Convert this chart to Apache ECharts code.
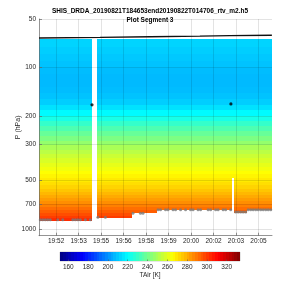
<!DOCTYPE html>
<html><head><meta charset="utf-8">
<script src="https://cdn.jsdelivr.net/npm/echarts@6/dist/echarts.min.js"></script>
<style>html,body{margin:0;padding:0;background:#fff}#c{width:300px;height:300px}</style>
</head><body><div id="c"></div>
<script>
// ---------------- data ----------------
const titleLines = ['SHIS_DRDA_20190821T184653end20190822T014706_rtv_m2.h5', 'Plot Segment 3'];
const yTickValues = [50, 100, 200, 300, 500, 700, 1000];
const xTickTimes = ['19:52:30','19:53:54','19:55:18','19:56:42','19:58:06','19:59:30','20:00:54','20:02:18','20:03:42','20:05:06'];
const xTickLabels = ['19:52','19:53','19:55','19:56','19:58','19:59','20:00','20:02','20:03','20:05'];
const cbTicks = [160, 180, 200, 220, 240, 260, 280, 300, 320];
const cbRange = [151.6, 333.4];
// retrieval pressure levels (hPa, layer edges) and layer temperatures (K)
const levels = [66.44,74.13,82.18,90.91,100.2,110.2,120.7,131.9,143.8,156.4,169.8,183.8,198.6,214.2,230.5,247.6,265.4,284.0,303.4,323.4,344.2,365.6,387.8,410.7,434.2,458.5,483.5,509.1,535.2,562.0,589.3,617.1,645.5,674.3,703.6,733.4,763.6,794.2,825.1,856.4,888.2];
const layerTemp = [212,211,210,209,208,207.5,207.5,208,209,211,214.5,219,224,229,233.5,238,242,246,250,253,256,258.5,261,263,265,267,269,271,273,275.5,278,280.5,283,285.5,288,291,294,297,300,303];
// columns (time steps)
const colStart = '19:51:26';
const colStepSec = 9.36;
const colBottom = [
 888.2,888.2,888.2,888.2,888.2,888.2,888.2,888.2,888.2,888.2,888.2,888.2,888.2,888.2,888.2,888.2,888.2,888.2,888.2,888.2,888.2,
 null,null,
 856.4,856.4,856.4,856.4,856.4,856.4,856.4,856.4,856.4,856.4,856.4,856.4,856.4,856.4,
 794.2,794.2,794.2,794.2,794.2,794.2,794.2,794.2,794.2,794.2,
 763.6,763.6,763.6,763.6,763.6,763.6,763.6,763.6,763.6,763.6,763.6,763.6,763.6,763.6,763.6,
 763.6,763.6,763.6,763.6,763.6,763.6,763.6,763.6,763.6,763.6,763.6,763.6,763.6,763.6,763.6,
 483.5,
 794.2,794.2,794.2,794.2,794.2,
 763.6,763.6,763.6,763.6,763.6,763.6,763.6,763.6,763.6,763.6
];
// surface markers: column index and pressure
const markerCols = [0,1,2,3,4,7,9,13,14,15,16,18,20, 23,26, 37,40,41, 47,48,50,51,53,54,56,58,60,61,63,64,67,68,70,71,73,74,76, 78,79,80,81,82, 83,84,85,86,87,88,89,90,91,92];
const markerP =    [875,875,875,875,875,875,875,875,875,875,875,875,875, 845,845, 800,800,800, 760,760,760,760,760,760,760,760,760,760,760,760,760,760,760,760,760,760,760, 785,785,785,785,785, 760,760,760,760,760,760,760,760,760,760];
// flight level line
const flightTimes = ['19:51:26','19:55:14','19:58:21','20:01:27','20:03:19','20:05:56'];
const flightP = [65.6, 65.0, 64.4, 63.8, 63.4, 63.0];
// black dots
const dotTimes = ['19:54:44','20:03:23'];
const dotP = [170, 168];

// ---------------- build ----------------
function toMin(s){const a=s.split(':').map(Number);return a[0]*60+a[1]+(a[2]||0)/60;}
const t0 = toMin(colStart), dtm = colStepSec/60;
const xMin = t0, xMax = t0 + colBottom.length*dtm;
const cells = [];
colBottom.forEach((b,i)=>{
  if(b==null) return;
  for(let k=0;k<layerTemp.length && levels[k+1]<=b+0.01;k++){
    cells.push([t0+i*dtm, t0+(i+1)*dtm, levels[k], levels[k+1], layerTemp[k]]);
  }
});
const cbCells = [];
const nSteps = 64, stepW=(cbRange[1]-cbRange[0])/nSteps;
for(let j=0;j<nSteps;j++){const a=cbRange[0]+j*stepW;cbCells.push([a,a+stepW,0,1,a+stepW/2]);}
const markers = markerCols.map((c,i)=>[t0+(c+0.5)*dtm, markerP[i]]);
const flight = flightTimes.map((t,i)=>[toMin(t), flightP[i]]);
const dots = dotTimes.map((t,i)=>[toMin(t), dotP[i]]);
const xTicks = xTickTimes.map(toMin);

function rectItem(params, api){
  const a = api.coord([api.value(0), api.value(2)]);
  const b = api.coord([api.value(1), api.value(3)]);
  const x0=Math.round(a[0]), x1=Math.round(b[0]), y0=Math.round(Math.min(a[1],b[1])), y1=Math.round(Math.max(a[1],b[1]));
  return {type:'rect', shape:{x:x0,y:y0,width:x1-x0,height:y1-y0}, style:{fill:api.visual('color')}};
}
const font = 'Liberation Sans, Arial, sans-serif';
const tc = '#262626';
const chart = echarts.init(document.getElementById('c'), null, {renderer:'canvas'});
chart.setOption({
  animation:false,
  backgroundColor:'#fff',
  title:{text:titleLines.join('\n'), left:'center', top:1.5, textStyle:{fontSize:6.5, fontWeight:'bold', color:'#000', fontFamily:font, lineHeight:9}},
  grid:[
    {left:39, right:28, top:19, bottom:64.3, outerBoundsMode:'none', containLabel:false},
    {left:60, right:60, top:252, height:9, outerBoundsMode:'none', containLabel:false, show:true, borderColor:'#999', borderWidth:0.5, backgroundColor:'transparent'}
  ],
  visualMap:{type:'continuous', show:false, min:cbRange[0], max:cbRange[1], dimension:4, seriesIndex:[0,4],
    inRange:{color:['#000080','#0000ff','#0080ff','#00ffff','#80ff80','#ffff00','#ff8000','#ff0000','#800000']}},
  xAxis:[
    {type:'value', gridIndex:0, min:xMin, max:xMax, z:3,
     axisLine:{show:true, lineStyle:{color:'#666', width:0.7}},
     axisTick:{show:true, inside:true, length:3, customValues:xTicks, lineStyle:{color:'#666', width:0.7}},
     axisLabel:{customValues:xTicks, fontSize:6.5, color:tc, fontFamily:font, margin:2.5,
       formatter:(v)=>{let bi=0,bd=1e9;xTicks.forEach((t,i)=>{const d=Math.abs(t-v);if(d<bd){bd=d;bi=i;}});return xTickLabels[bi];}},
     splitLine:{show:true, lineStyle:{color:'rgba(0,0,0,0.11)', width:1}}},
    {type:'value', gridIndex:1, min:cbRange[0], max:cbRange[1], z:3,
     name:'TAir [K]', nameLocation:'middle', nameGap:11, nameMoveOverlap:false, nameTextStyle:{fontSize:6.5, color:tc, fontFamily:font},
     axisLine:{show:false},
     axisTick:{show:true, inside:true, length:1.5, customValues:cbTicks, lineStyle:{color:'#555', width:0.6}},
     axisLabel:{customValues:cbTicks, fontSize:6.5, color:tc, fontFamily:font, margin:3},
     splitLine:{show:false}}
  ],
  yAxis:[
    {type:'log', logBase:10, gridIndex:0, min:50, max:1100, inverse:true, z:3,
     name:'P (hPa)', nameLocation:'middle', nameGap:17, nameMoveOverlap:false, nameTextStyle:{fontSize:7, color:tc, fontFamily:font},
     axisLine:{show:true, lineStyle:{color:'#666', width:0.7}},
     axisTick:{show:true, inside:true, length:3, customValues:yTickValues, lineStyle:{color:'#666', width:0.7}},
     axisLabel:{customValues:yTickValues, fontSize:6.5, color:tc, fontFamily:font, margin:3, formatter:(v)=>String(Math.round(v))},
     minorTick:{show:false}, minorSplitLine:{show:false},
     splitLine:{show:true, lineStyle:{color:'rgba(0,0,0,0.11)', width:1}}},
    {type:'value', gridIndex:1, min:0, max:1, show:false}
  ],
  series:[
    {type:'custom', xAxisIndex:0, yAxisIndex:0, data:cells, renderItem:rectItem, encode:{x:[0,1], y:[2,3]}, z:1, silent:true},
    {type:'scatter', xAxisIndex:0, yAxisIndex:0, data:markers, symbol:'circle', symbolSize:3, itemStyle:{color:'#7a7a7a'}, z:4, silent:true},
    {type:'line', xAxisIndex:0, yAxisIndex:0, data:flight, showSymbol:false, lineStyle:{color:'#111', width:1.4}, z:5, silent:true},
    {type:'scatter', xAxisIndex:0, yAxisIndex:0, data:dots, symbol:'circle', symbolSize:3.2, itemStyle:{color:'#000'}, z:6, silent:true},
    {type:'custom', xAxisIndex:1, yAxisIndex:1, data:cbCells, renderItem:rectItem, encode:{x:[0,1], y:[2,3]}, z:1, silent:true}
  ]
});
</script></body></html>
